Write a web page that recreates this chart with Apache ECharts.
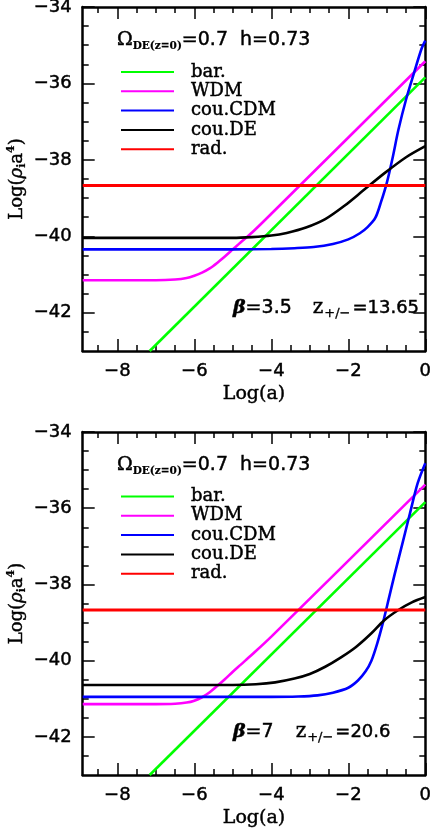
<!DOCTYPE html>
<html>
<head>
<meta charset="utf-8">
<script src="https://cdn.jsdelivr.net/npm/echarts@6/dist/echarts.min.js"></script>
<style>
  html, body { margin: 0; padding: 0; background: #fff; }
  #chart { width: 430px; height: 838px; }
</style>
</head>
<body>
<div id="chart"></div>
<script>
// axes
const X_MIN = -8.9;
const X_MAX = 0;
const Y_MIN = -43;
const Y_MAX = -34;
const xMajor = [-8, -6, -4, -2, 0];
const xMinor = [-8.5, -7.5, -7, -6.5, -5.5, -5, -4.5, -3.5, -3, -2.5, -1.5, -1, -0.5];
const yMajor = [-42, -40, -38, -36, -34];
const yMinor = [-42.5, -41.5, -41, -40.5, -39.5, -39, -38.5, -37.5, -37, -36.5, -35.5, -35, -34.5];

const seriesNames = ['bar.', 'WDM', 'cou.CDM', 'cou.DE', 'rad.'];
const seriesColors = ['#00ff00', '#ff00ff', '#0000ff', '#000000', '#ff0000'];

// upper panel, beta = 3.5
const topBarX = [-7.16, 0];
const topBarY = [-43, -35.84];
const topWdmX = [-8.9, -7.0, -6.5, -6.2, -6.0, -5.8, -5.6, -5.4, -5.2, -5.0, -4.8, -4.5, -4.0, 0];
const topWdmY = [-41.15, -41.15, -41.13, -41.09, -41.03, -40.95, -40.84, -40.69, -40.52, -40.34, -40.16, -39.90, -39.41, -35.42];
const topCdmX = [-8.9, -5.0, -4.0, -3.4, -2.9, -2.4, -2.0, -1.7, -1.5, -1.3, -1.15, -1.0, -0.85, -0.7, -0.5, -0.3, -0.1, 0];
const topCdmY = [-40.34, -40.34, -40.33, -40.31, -40.28, -40.20, -40.08, -39.92, -39.76, -39.52, -39.10, -38.60, -37.95, -37.22, -36.42, -35.75, -35.10, -34.88];
const topDeX = [-8.9, -5.0, -4.5, -4.0, -3.6, -3.1, -2.6, -2.1, -1.6, -1.05, -0.5, 0];
const topDeY = [-40.04, -40.04, -40.02, -39.98, -39.91, -39.77, -39.55, -39.20, -38.79, -38.34, -37.93, -37.64];
const topRadX = [-8.9, 0];
const topRadY = [-38.67, -38.67];

// lower panel, beta = 7
const botBarX = [-7.16, 0];
const botBarY = [-43, -35.84];
const botWdmX = [-8.9, -7.0, -6.5, -6.2, -6.0, -5.8, -5.6, -5.4, -5.2, -5.0, -4.8, -4.5, -4.0, 0];
const botWdmY = [-41.14, -41.14, -41.13, -41.10, -41.05, -40.96, -40.83, -40.66, -40.48, -40.29, -40.11, -39.84, -39.37, -35.38];
const botCdmX = [-8.9, -5.0, -4.0, -3.3, -2.8, -2.4, -2.0, -1.75, -1.55, -1.4, -1.25, -1.1, -0.95, -0.8, -0.6, -0.4, -0.2, 0];
const botCdmY = [-40.95, -40.95, -40.95, -40.94, -40.91, -40.84, -40.71, -40.52, -40.28, -40.0, -39.55, -39.0, -38.38, -37.75, -36.95, -36.14, -35.35, -34.82];
const botDeX = [-8.9, -5.0, -4.4, -3.9, -3.4, -3.0, -2.6, -2.2, -1.8, -1.4, -1.08, -0.7, -0.35, 0];
const botDeY = [-40.64, -40.64, -40.62, -40.57, -40.47, -40.35, -40.16, -39.92, -39.64, -39.28, -38.95, -38.67, -38.47, -38.33];
const botRadX = [-8.9, 0];
const botRadY = [-38.67, -38.67];

const panels = [
  {
    lines: [[topBarX, topBarY], [topWdmX, topWdmY], [topCdmX, topCdmY], [topDeX, topDeY], [topRadX, topRadY]],
    beta: '3.5', zpm: '13.65', zPad: 21
  },
  {
    lines: [[botBarX, botBarY], [botWdmX, botWdmY], [botCdmX, botCdmY], [botDeX, botDeY], [botRadX, botRadY]],
    beta: '7', zpm: '20.6', zPad: 22
  }
];

const grids = [
  { left: 82.7, top: 7, width: 342.6, height: 344, outerBoundsMode: 'none' },
  { left: 82.7, top: 432, width: 342.6, height: 343, outerBoundsMode: 'none' }
];

// a thin outline makes the glyphs a bit heavier, like the original plot fonts
const heavy = { textBorderColor: '#000', textBorderWidth: 0.45 };
const ink = { fill: '#000', stroke: '#000', lineWidth: 0.45 };

const minus = (v) => (v < 0 ? '\u2212' : '') + Math.abs(v);
const frameLine = { show: true, onZero: false, lineStyle: { color: '#000', width: 2.5 } };
const noLine = { show: false, onZero: false };
const tickStyle = { color: '#000', width: 1.5 };

function makeAxes(dim, g) {
  const isX = dim === 'x';
  const major = isX ? xMajor : yMajor;
  const minor = isX ? xMinor : yMinor;
  const sides = isX ? ['bottom', 'top'] : ['left', 'right'];
  const base = {
    type: 'value',
    gridIndex: g,
    min: isX ? X_MIN : Y_MIN,
    max: isX ? X_MAX : Y_MAX,
    splitLine: { show: false },
    axisLabel: { show: false }
  };
  const axes = [];
  sides.forEach((side, k) => {
    const main = Object.assign({}, base, {
      position: side,
      axisLine: frameLine,
      axisTick: { inside: true, length: 12, customValues: major, lineStyle: tickStyle }
    });
    if (k === 0) {
      main.axisLabel = Object.assign({
        show: true,
        customValues: major,
        formatter: minus,
        margin: 11,
        color: '#000',
        fontFamily: 'DejaVu Sans',
        fontSize: 18
      }, heavy);
      if (isX) {
        main.name = 'Log(a)';
        main.nameLocation = 'middle';
        main.nameGap = 34;
        main.nameMoveOverlap = false;
        main.nameTextStyle = Object.assign({ color: '#000', fontFamily: 'DejaVu Serif', fontSize: 19 }, heavy);
      }
    }
    axes.push(main);
    axes.push(Object.assign({}, base, {
      position: side,
      axisLine: noLine,
      axisTick: { inside: true, length: 6, customValues: minor, lineStyle: tickStyle }
    }));
  });
  return axes;
}

const xAxis = [].concat(makeAxes('x', 0), makeAxes('x', 1));
const yAxis = [].concat(makeAxes('y', 0), makeAxes('y', 1));

const series = [];
panels.forEach((p, g) => {
  p.lines.forEach((xy, k) => {
    series.push({
      name: seriesNames[k],
      type: 'line',
      xAxisIndex: g * 4,
      yAxisIndex: g * 4,
      data: xy[0].map((x, i) => [x, xy[1][i]]),
      showSymbol: false,
      symbol: 'none',
      smooth: 0.3,
      color: seriesColors[k],
      itemStyle: { color: seriesColors[k] },
      lineStyle: { color: seriesColors[k], width: k === 4 ? 3 : 2.6 }
    });
  });
});

const legendTops = [62.5, 487];
const legend = legendTops.map((top) => ({
  left: 121,
  top: top,
  orient: 'vertical',
  padding: 0,
  itemGap: 0.3,
  itemWidth: 53,
  itemHeight: 2,
  icon: 'rect',
  selectedMode: false,
  data: seriesNames,
  textStyle: Object.assign({
    color: '#000',
    fontFamily: 'DejaVu Serif',
    fontSize: 18,
    lineHeight: 19,
    padding: [0, 0, 0, 12]
  }, heavy)
}));

const tok = (o) => Object.assign({}, ink, o);

const graphic = [];
const panelTops = [7, 432];
panels.forEach((p, g) => {
  const top = panelTops[g];
  const h = grids[g].height;
  // Omega / h annotation
  graphic.push({
    type: 'text',
    x: 117,
    y: top + 33,
    style: {
      text: '{o|\u03A9}{s|DE(z=0)}{t|=0.7  h=0.73}',
      align: 'left',
      verticalAlign: 'middle',
      rich: {
        o: tok({ fontFamily: 'DejaVu Serif', fontSize: 19, lineHeight: 24 }),
        s: tok({ fontFamily: 'DejaVu Serif', fontWeight: 'bold', fontSize: 10.5, lineHeight: 8, verticalAlign: 'bottom', lineWidth: 0.2 }),
        t: tok({ fontFamily: 'DejaVu Sans', fontSize: 19, lineHeight: 24 })
      }
    }
  });
  // beta / z annotation
  graphic.push({
    type: 'text',
    x: 233,
    y: top + (g === 0 ? 301 : 300),
    style: {
      text: '{b|\u03B2}{t|=' + p.beta + '}{z|z}{s|+/\u2212}{u|=' + p.zpm + '}',
      align: 'left',
      verticalAlign: 'middle',
      rich: {
        b: tok({ fontFamily: 'DejaVu Serif', fontWeight: 'bold', fontStyle: 'italic', fontSize: 19, lineHeight: 24 }),
        t: tok({ fontFamily: 'DejaVu Sans', fontSize: 19, lineHeight: 24 }),
        z: tok({ fontFamily: 'DejaVu Serif', fontSize: 20, lineHeight: 24, padding: [0, 0, 0, p.zPad] }),
        s: tok({ fontFamily: 'DejaVu Sans', fontSize: 13, lineHeight: 8, verticalAlign: 'bottom', padding: [0, 2, 0, 1], lineWidth: 0.3 }),
        u: tok({ fontFamily: 'DejaVu Sans', fontSize: 18, lineHeight: 24 })
      }
    }
  });
  // y axis title
  graphic.push({
    type: 'text',
    x: 17,
    y: top + h / 2,
    rotation: Math.PI / 2,
    style: {
      text: '{m|Log(}{g|\u03C1}{s|i}{m|a}{p|4}{m|)}',
      align: 'center',
      verticalAlign: 'middle',
      rich: {
        m: tok({ fontFamily: 'DejaVu Serif', fontSize: 18, lineHeight: 22 }),
        g: tok({ fontFamily: 'DejaVu Serif', fontStyle: 'italic', fontSize: 18, lineHeight: 22 }),
        s: tok({ fontFamily: 'DejaVu Serif', fontWeight: 'bold', fontSize: 11, lineHeight: 8, verticalAlign: 'bottom', lineWidth: 0.2 }),
        p: tok({ fontFamily: 'DejaVu Serif', fontWeight: 'bold', fontSize: 11, lineHeight: 8, verticalAlign: 'top', lineWidth: 0.2 })
      }
    }
  });
});

const chart = echarts.init(document.getElementById('chart'), null, { renderer: 'canvas' });
chart.setOption({
  animation: false,
  backgroundColor: '#fff',
  grid: grids,
  xAxis: xAxis,
  yAxis: yAxis,
  legend: legend,
  series: series,
  graphic: graphic
});
</script>
</body>
</html>
